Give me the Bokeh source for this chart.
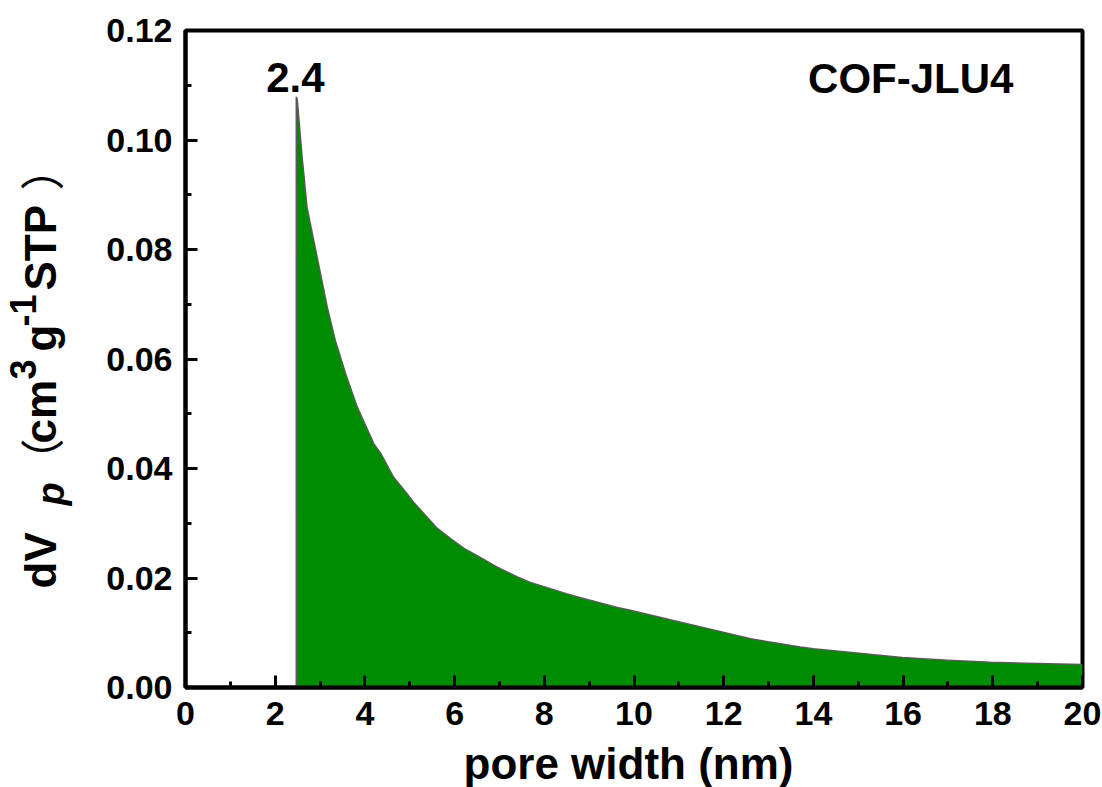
import math
from bokeh.plotting import figure
from bokeh.layouts import row, column
from bokeh.models import Range1d, FixedTicker, PrintfTickFormatter, ColumnDataSource
from bokeh.core.properties import value
from bokeh.embed import file_html
from bokeh.resources import INLINE

# ---- data ----
pore_width = [2.47, 2.47, 2.49, 2.60, 2.71, 2.86, 3.01, 3.16, 3.34, 3.57, 3.83, 4.20, 4.35,
              4.64, 4.94, 5.09, 5.61, 5.91, 6.21, 6.65, 6.95, 7.40, 7.69, 8.51, 8.81, 9.63,
              9.92, 11.04, 11.63, 12.60, 13.71, 14.00, 15.98, 17.00, 17.95, 19.00, 20.00]
dv_p = [0.0, 0.1078, 0.1075, 0.0969, 0.0877, 0.0816, 0.0756, 0.0695, 0.0634, 0.0573, 0.0512,
        0.0445, 0.0428, 0.0384, 0.0354, 0.0338, 0.0291, 0.0272, 0.0254, 0.0234, 0.0220,
        0.0202, 0.0192, 0.0171, 0.0164, 0.0146, 0.0141, 0.0119, 0.0108, 0.0089, 0.0074,
        0.0071, 0.0055, 0.0050, 0.0046, 0.0044, 0.0042]
x_ticks = [0, 2, 4, 6, 8, 10, 12, 14, 16, 18, 20]
x_minor = [1, 3, 5, 7, 9, 11, 13, 15, 17, 19]
y_ticks = [0.00, 0.02, 0.04, 0.06, 0.08, 0.10, 0.12]
y_minor = [0.01, 0.03, 0.05, 0.07, 0.09, 0.11]
peak_label = "2.4"
peak_x = 2.45
sample_name = "COF-JLU4"
x_title = "pore width (nm)"
# y title pieces: text, style, size(px), font, baseline (canvas x)
y_title_parts = [
    ("dV", "bold", 44, "Liberation Sans", 55),
    ("p", "bold italic", 38, "Liberation Sans", 64),
    ("（", "normal", 44, "Noto Sans CJK SC", 55),
    ("cm", "bold", 44, "Liberation Sans", 55),
    ("3", "bold", 36, "Liberation Sans", 35),
    ("g", "bold", 44, "Liberation Sans", 55),
    ("-1", "bold", 36, "Liberation Sans", 35),
    (" STP", "bold", 44, "Liberation Sans", 55),
    ("）", "normal", 44, "Noto Sans CJK SC", 55),
]
# start position (canvas y, from top) of each piece along the rotated title
y_title_starts = [588, 505, 482, 443, 379, 351, 326, 290, 190]

FONT = "Liberation Sans"
W, H = 1102, 787
LW = 100   # width of the left strip holding the y title
BH = 47    # height of the bottom strip holding the x title
F_TOP, F_BOT = 30, 687  # plot frame top / bottom (canvas px)


def strip(w, h, top=0, bottom=0, yr=None):
    f = figure(width=w, height=h, output_backend="svg", toolbar_location=None,
               x_range=Range1d(0, w), y_range=yr if yr is not None else Range1d(0, h),
               x_axis_location=None, y_axis_location=None,
               min_border=0, min_border_left=0, min_border_right=0,
               min_border_top=top, min_border_bottom=bottom)
    f.grid.visible = False
    f.outline_line_color = None
    f.background_fill_color = "white"
    f.border_fill_color = "white"
    return f


# ---- left strip: rotated y-axis title (frame aligned with the plot frame) ----
t = strip(LW, H - BH, top=F_TOP, bottom=H - BH - F_BOT, yr=Range1d(-F_BOT, -F_TOP))
for (txt, style, size, font, base_x), cy in zip(y_title_parts, y_title_starts):
    mid_x = base_x - 0.35 * size
    t.text(x=[mid_x], y=[-cy], text=[txt], angle=math.pi / 2,
           text_align="left", text_baseline="middle",
           text_font=value(font), text_font_style=style, text_font_size=f"{size}px",
           text_color="black")

# ---- main plot ----
p = figure(width=W - LW, height=H - BH, output_backend="svg", toolbar_location=None,
           x_range=Range1d(0, 20), y_range=Range1d(0, 0.12),
           min_border_left=185 - LW, min_border_right=20, min_border_top=F_TOP,
           min_border_bottom=H - BH - F_BOT)
p.background_fill_color = "white"
p.border_fill_color = "white"
p.outline_line_color = "black"
p.outline_line_width = 4
p.grid.visible = False

src = ColumnDataSource(dict(x=pore_width, y=dv_p, y0=[0.0] * len(dv_p)))
p.varea(x="x", y1="y0", y2="y", source=src, fill_color="#008c00")
p.line(x="x", y="y", source=src, line_color="#5a5a5a", line_width=1.5, line_join="round")

for ax in (p.xaxis[0], p.yaxis[0]):
    ax.axis_line_width = 4
    ax.major_tick_line_width = 3
    ax.minor_tick_line_width = 3
    ax.major_tick_in = 12
    ax.major_tick_out = 0
    ax.minor_tick_in = 6
    ax.minor_tick_out = 0
    ax.major_label_text_font = FONT
    ax.major_label_text_font_style = "bold"
    ax.major_label_text_font_size = "34px"
    ax.major_label_text_color = "black"

p.xaxis.ticker = FixedTicker(ticks=x_ticks, minor_ticks=x_minor)
p.yaxis.ticker = FixedTicker(ticks=y_ticks, minor_ticks=y_minor)
p.yaxis.formatter = PrintfTickFormatter(format="%.2f")
p.xaxis.major_label_standoff = 14
p.yaxis.major_label_standoff = 13

p.text(x=[peak_x], y=[0.1114], text=[peak_label], text_align="center", text_baseline="middle",
       text_font=value(FONT), text_font_style="bold", text_font_size="42px", text_color="black")
p.text(x=[16.17], y=[0.1112], text=[sample_name], text_align="center", text_baseline="middle",
       text_font=value(FONT), text_font_style="bold", text_font_size="42px", text_color="black")

# ---- bottom strip (full width): x-axis title ----
b = strip(W, BH)
b.text(x=[628], y=[24], text=[x_title], text_align="center", text_baseline="middle",
       text_font=value(FONT), text_font_style="bold", text_font_size="44px", text_color="black")

layout = column(row(t, p, spacing=0), b, spacing=0)
open("out.html", "w").write(file_html(layout, INLINE))
